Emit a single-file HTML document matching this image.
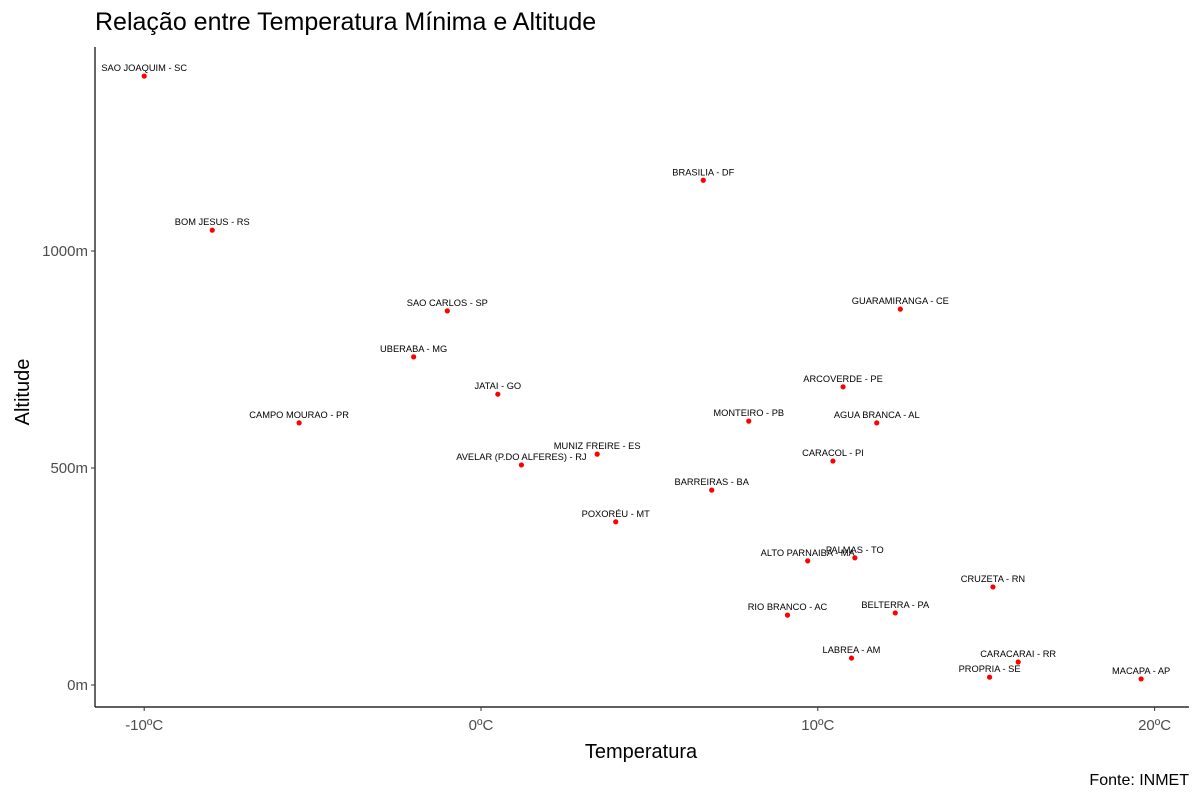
<!DOCTYPE html>
<html><head><meta charset="utf-8"><style>
body{margin:0;background:#fff}
svg text{font-family:"Liberation Sans",Arial,sans-serif}
</style></head><body>
<svg id="chart" width="1200" height="800" viewBox="0 0 1200 800" xmlns="http://www.w3.org/2000/svg">
<rect width="1200" height="800" fill="#fff"/>
<text x="95" y="30" font-size="25" fill="#000">Relação entre Temperatura Mínima e Altitude</text>
<g id="axes"></g>
<g id="points"></g>
<text x="641" y="758" font-size="20" text-anchor="middle">Temperatura</text>
<text transform="translate(29,392) rotate(-90)" font-size="20" text-anchor="middle">Altitude</text>
<text x="1189" y="785" font-size="16" text-anchor="end">Fonte: INMET</text>
</svg>
<script>
const stations=["SAO JOAQUIM - SC","BRASILIA - DF","BOM JESUS - RS","SAO CARLOS - SP","GUARAMIRANGA - CE","UBERABA - MG","JATAI - GO","ARCOVERDE - PE","MONTEIRO - PB","AGUA BRANCA - AL","CAMPO MOURAO - PR","MUNIZ FREIRE - ES","AVELAR (P.DO ALFERES) - RJ","CARACOL - PI","BARREIRAS - BA","POXORÉU - MT","ALTO PARNAIBA - MA","PALMAS - TO","CRUZETA - RN","RIO BRANCO - AC","BELTERRA - PA","LABREA - AM","CARACARAI - RR","PROPRIA - SE","MACAPA - AP"];
const temps=[-10,6.6,-7.98,-1.0,12.45,-2.0,0.5,10.75,7.95,11.75,-5.4,3.45,1.2,10.45,6.85,4.0,9.7,11.1,15.2,9.1,12.3,11.0,15.95,15.1,19.6];
const altitudes=[1403,1163,1048,862,866,756,670,687,608,604,604,532,507,516,449,376,286,293,226,161,166,62,53,18,14];
const xTicks=[-10,0,10,20];
const xTickLabels=["-10ºC","0ºC","10ºC","20ºC"];
const yTicks=[0,500,1000];
const yTickLabels=["0m","500m","1000m"];
const X=t=>481+t*33.68;
const Y=a=>685-a*0.434;
const NS="http://www.w3.org/2000/svg";
function mk(tag,attrs,parent){const e=document.createElementNS(NS,tag);for(const k in attrs)e.setAttribute(k,attrs[k]);parent.appendChild(e);return e;}
const ax=document.getElementById('axes');
let l=mk('line',{x1:95,y1:47,x2:95,y2:707,stroke:'#000','stroke-width':1.2},ax);


l=mk('line',{x1:95,y1:707,x2:1189,y2:707,stroke:'#000','stroke-width':1.2},ax);


xTicks.forEach((t,i)=>{
 const tk=mk('line',{x1:X(t),x2:X(t),y1:707,y2:711,stroke:'#333'},ax);
 
 
 const tx=mk('text',{x:X(t),y:730,'font-size':15,fill:'#4d4d4d','text-anchor':'middle'},ax);
 tx.textContent=xTickLabels[i];
 
 
});
yTicks.forEach((v,i)=>{
 const tk=mk('line',{x1:91,x2:95,y1:Y(v),y2:Y(v),stroke:'#333'},ax);
 
 
 const tx=mk('text',{x:88,y:Y(v)+5,'font-size':15,fill:'#4d4d4d','text-anchor':'end'},ax);
 tx.textContent=yTickLabels[i];
 
 
});
const pg=document.getElementById('points');
stations.forEach((s,i)=>{
 const c=mk('circle',{cx:X(temps[i]),cy:Y(altitudes[i]),r:2.6,fill:'#ff0000'},pg);
 
 
 const t=mk('text',{x:X(temps[i]),y:Y(altitudes[i])-5,'font-size':9.3,'text-anchor':'middle',fill:'#000'},pg);
 t.textContent=s;
 
 
});
</script>
</body></html>
